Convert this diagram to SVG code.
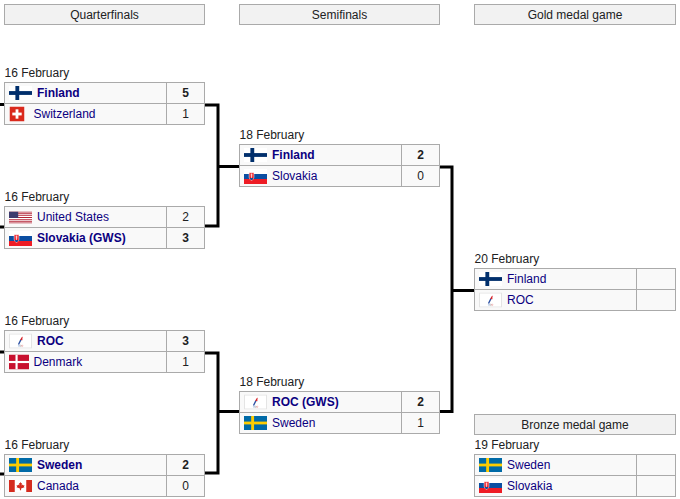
<svg xmlns="http://www.w3.org/2000/svg" xmlns:xlink="http://www.w3.org/1999/xlink" width="680" height="499" viewBox="0 0 680 499">
<style>
text{font-family:"Liberation Sans",Arial,sans-serif;font-size:12px;fill:#202122}
.hdr{fill:#f2f2f2;stroke:#aaaaaa;stroke-width:1}
.cell{fill:#f9f9f9;stroke:#aaaaaa;stroke-width:1}
.ht{text-anchor:middle}
.tm{fill:#0b0080}
.w{font-weight:bold}
.sc{text-anchor:middle}
.conn{fill:none;stroke:#000;stroke-width:3;stroke-linejoin:miter;stroke-linecap:butt}
</style>
<defs>
<symbol id="fin" viewBox="0 0 18 11" preserveAspectRatio="none"><rect width="18" height="11" fill="#fff"/><rect x="5" width="3" height="11" fill="#002f6c"/><rect y="4" width="18" height="3" fill="#002f6c"/></symbol>
<symbol id="swe" viewBox="0 0 16 10" preserveAspectRatio="none"><rect width="16" height="10" fill="#006aa7"/><rect x="5" width="2" height="10" fill="#fecc00"/><rect y="4" width="16" height="2" fill="#fecc00"/></symbol>
<symbol id="den" viewBox="0 0 37 28" preserveAspectRatio="none"><rect width="37" height="28" fill="#c8102e"/><rect x="12" width="4" height="28" fill="#fff"/><rect y="12" width="37" height="4" fill="#fff"/></symbol>
<symbol id="sui" viewBox="0 0 32 32" preserveAspectRatio="none"><rect width="32" height="32" fill="#da291c"/><rect x="13" y="6" width="6" height="20" fill="#fff"/><rect x="6" y="13" width="20" height="6" fill="#fff"/></symbol>
<symbol id="svk" viewBox="0 0 9 6" preserveAspectRatio="none"><rect width="9" height="6" fill="#fff"/><rect y="2" width="9" height="2" fill="#0b4ea2"/><rect y="4" width="9" height="2" fill="#ee1c25"/><path d="M2,1.5 H3.9 V3.3 Q3.9,4.2 2.95,4.6 Q2,4.2 2,3.3 Z" fill="#ee1c25" stroke="#fff" stroke-width="0.2"/><path d="M2.95,1.8 V3.8 M2.55,2.3 H3.35 M2.6,2.8 H3.3" stroke="#fff" stroke-width="0.25"/><path d="M2.15,3.7 Q2.95,3.4 3.75,3.7 L3.3,4.3 Q2.95,4.45 2.6,4.3 Z" fill="#0b4ea2"/></symbol>
<symbol id="usa" viewBox="0 0 190 130" preserveAspectRatio="none"><rect width="190" height="130" fill="#b22234"/><path d="M0,15H190M0,35H190M0,55H190M0,75H190M0,95H190M0,115H190" stroke="#fff" stroke-width="10"/><rect width="76" height="70" fill="#3c3b6e"/></symbol>
<symbol id="can" viewBox="0 0 40 20" preserveAspectRatio="none"><rect width="40" height="20" fill="#fff"/><rect width="10" height="20" fill="#d52b1e"/><rect x="30" width="10" height="20" fill="#d52b1e"/><path d="M20,3 L21,5.5 L22.5,4.8 L22,9 L24,7.5 L25,9 L27,8.5 L26,11 L27,12 L21,14 L21,17 L19,17 L19,14 L13,12 L14,11 L13,8.5 L15,9 L16,7.5 L18,9 L17.5,4.8 L19,5.5 Z" fill="#d52b1e"/></symbol>
<symbol id="roc" viewBox="0 0 23 15" preserveAspectRatio="none"><rect x="0.5" y="0.5" width="22" height="14" fill="#fff" stroke="#e4e4e4" stroke-width="1"/><path d="M9.5,11 L12,6" stroke="#2b4fa3" stroke-width="1.4"/><path d="M11.3,6.5 Q11.8,3.8 13.8,3 Q13.2,5 13.4,6.8 Z" fill="#d8262c"/><circle cx="10" cy="12.3" r="0.7" fill="none" stroke="#7aa0d4" stroke-width="0.4"/><circle cx="11.6" cy="12.3" r="0.7" fill="none" stroke="#999" stroke-width="0.4"/><circle cx="13.2" cy="12.3" r="0.7" fill="none" stroke="#e07070" stroke-width="0.4"/></symbol>
</defs>

<g id="headers">
<g id="hdr-qf"><rect class="hdr" x="4.5" y="4.5" width="200" height="20"/><text class="ht" x="104.5" y="18.5">Quarterfinals</text></g>
<g id="hdr-sf"><rect class="hdr" x="239.5" y="4.5" width="200" height="20"/><text class="ht" x="339.5" y="18.5">Semifinals</text></g>
<g id="hdr-gold"><rect class="hdr" x="474.5" y="4.5" width="201" height="20"/><text class="ht" x="575" y="18.5">Gold medal game</text></g>
<g id="hdr-bronze"><rect class="hdr" x="474.5" y="414.5" width="201" height="20"/><text class="ht" x="575" y="428.5">Bronze medal game</text></g>
</g>

<g id="connectors">
<path class="conn" d="M0,104.5 H4 M0,227 H4 M0,352 H4 M0,474 H4"/>
<path class="conn" d="M205,105 H218 V226 H205 M218,166.5 H239"/>
<path class="conn" d="M205,353 H218 V473 H205 M218,411.5 H239"/>
<path class="conn" d="M440,167 H452 V411.5 H440 M452,290.5 H474"/>
</g>

<g id="qf1">
<text x="4.5" y="76.5">16 February</text>
<rect class="cell" x="4.5" y="82.5" width="162" height="21"/><rect class="cell" x="166.5" y="82.5" width="38" height="21"/>
<rect class="cell" x="4.5" y="103.5" width="162" height="21"/><rect class="cell" x="166.5" y="103.5" width="38" height="21"/>
<use xlink:href="#fin" x="9" y="86" width="23" height="14"/>
<text class="tm w" x="37" y="96.8">Finland</text><text class="sc w" x="185.5" y="96.8">5</text>
<use xlink:href="#sui" x="9.5" y="106.5" width="15" height="15"/>
<text class="tm" x="33.5" y="117.8">Switzerland</text><text class="sc" x="185.5" y="117.8">1</text>
</g>

<g id="qf2">
<text x="4.5" y="200.5">16 February</text>
<rect class="cell" x="4.5" y="206.5" width="162" height="21"/><rect class="cell" x="166.5" y="206.5" width="38" height="21"/>
<rect class="cell" x="4.5" y="227.5" width="162" height="21"/><rect class="cell" x="166.5" y="227.5" width="38" height="21"/>
<use xlink:href="#usa" x="9" y="211.5" width="23" height="12"/>
<text class="tm" x="37" y="220.8">United States</text><text class="sc" x="185.5" y="220.8">2</text>
<use xlink:href="#svk" x="9" y="231" width="23" height="15"/>
<text class="tm w" x="37" y="241.8">Slovakia (GWS)</text><text class="sc w" x="185.5" y="241.8">3</text>
</g>

<g id="qf3">
<text x="4.5" y="324.5">16 February</text>
<rect class="cell" x="4.5" y="330.5" width="162" height="21"/><rect class="cell" x="166.5" y="330.5" width="38" height="21"/>
<rect class="cell" x="4.5" y="351.5" width="162" height="21"/><rect class="cell" x="166.5" y="351.5" width="38" height="21"/>
<use xlink:href="#roc" x="9" y="333.5" width="23" height="15"/>
<text class="tm w" x="37" y="344.8">ROC</text><text class="sc w" x="185.5" y="344.8">3</text>
<use xlink:href="#den" x="9" y="354.5" width="20" height="15"/>
<text class="tm" x="33.5" y="365.8">Denmark</text><text class="sc" x="185.5" y="365.8">1</text>
</g>

<g id="qf4">
<text x="4.5" y="448.5">16 February</text>
<rect class="cell" x="4.5" y="454.5" width="162" height="21"/><rect class="cell" x="166.5" y="454.5" width="38" height="21"/>
<rect class="cell" x="4.5" y="475.5" width="162" height="21"/><rect class="cell" x="166.5" y="475.5" width="38" height="21"/>
<use xlink:href="#swe" x="9" y="458" width="23" height="14"/>
<text class="tm w" x="37" y="468.8">Sweden</text><text class="sc w" x="185.5" y="468.8">2</text>
<use xlink:href="#can" x="9" y="480" width="23" height="12"/>
<text class="tm" x="37" y="489.8">Canada</text><text class="sc" x="185.5" y="489.8">0</text>
</g>

<g id="sf1">
<text x="239.5" y="138.5">18 February</text>
<rect class="cell" x="239.5" y="144.5" width="162" height="21"/><rect class="cell" x="401.5" y="144.5" width="38" height="21"/>
<rect class="cell" x="239.5" y="165.5" width="162" height="21"/><rect class="cell" x="401.5" y="165.5" width="38" height="21"/>
<use xlink:href="#fin" x="244" y="148" width="23" height="14"/>
<text class="tm w" x="272" y="158.8">Finland</text><text class="sc w" x="420.5" y="158.8">2</text>
<use xlink:href="#svk" x="244" y="169" width="23" height="15"/>
<text class="tm" x="272" y="179.8">Slovakia</text><text class="sc" x="420.5" y="179.8">0</text>
</g>

<g id="sf2">
<text x="239.5" y="385.5">18 February</text>
<rect class="cell" x="239.5" y="391.5" width="162" height="21"/><rect class="cell" x="401.5" y="391.5" width="38" height="21"/>
<rect class="cell" x="239.5" y="412.5" width="162" height="21"/><rect class="cell" x="401.5" y="412.5" width="38" height="21"/>
<use xlink:href="#roc" x="244" y="394.5" width="23" height="15"/>
<text class="tm w" x="272" y="405.8">ROC (GWS)</text><text class="sc w" x="420.5" y="405.8">2</text>
<use xlink:href="#swe" x="244" y="416" width="23" height="14"/>
<text class="tm" x="272" y="426.8">Sweden</text><text class="sc" x="420.5" y="426.8">1</text>
</g>

<g id="final">
<text x="474.5" y="262.5">20 February</text>
<rect class="cell" x="474.5" y="268.5" width="162" height="21"/><rect class="cell" x="636.5" y="268.5" width="39" height="21"/>
<rect class="cell" x="474.5" y="289.5" width="162" height="21"/><rect class="cell" x="636.5" y="289.5" width="39" height="21"/>
<use xlink:href="#fin" x="479" y="272" width="23" height="14"/>
<text class="tm" x="507" y="282.8">Finland</text>
<use xlink:href="#roc" x="479" y="292.5" width="23" height="15"/>
<text class="tm" x="507" y="303.8">ROC</text>
</g>

<g id="bronze">
<text x="474.5" y="448.5">19 February</text>
<rect class="cell" x="474.5" y="454.5" width="162" height="21"/><rect class="cell" x="636.5" y="454.5" width="39" height="21"/>
<rect class="cell" x="474.5" y="475.5" width="162" height="21"/><rect class="cell" x="636.5" y="475.5" width="39" height="21"/>
<use xlink:href="#swe" x="479" y="458" width="23" height="14"/>
<text class="tm" x="507" y="468.8">Sweden</text>
<use xlink:href="#svk" x="479" y="478" width="23" height="15"/>
<text class="tm" x="507" y="489.8">Slovakia</text>
</g>
</svg>
